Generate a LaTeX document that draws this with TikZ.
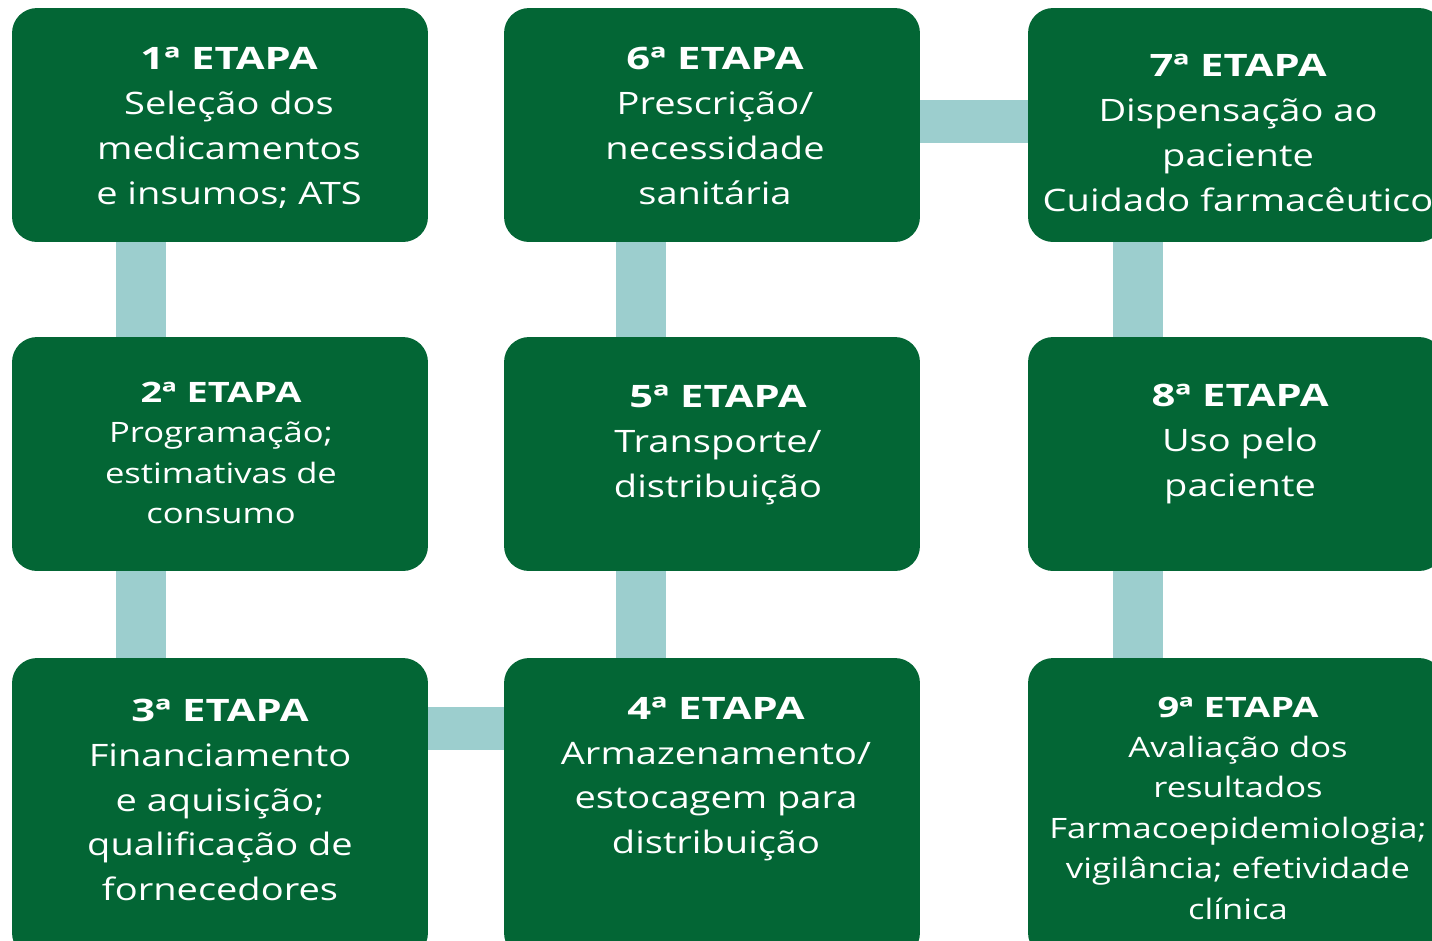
\documentclass[tikz,border=0pt]{standalone}
\usepackage{fontspec}
\setmainfont{Open Sans}[FakeStretch=1.23, BoldFeatures={FakeStretch=1.35}]
\definecolor{verde}{HTML}{036635}
\definecolor{agua}{HTML}{9CCECE}
\newcommand*{\etapa}[1]{\textbf{#1ª ETAPA}\\}
\tikzset{
  caixa/.style={fill=verde, rounded corners=0.5cm, minimum width=8.32cm,
                minimum height=4.68cm, inner sep=0pt},
  alta/.style={minimum height=6cm},
  rotulo/.style={text=white, align=center, inner sep=0pt,
                 font=\fontsize{17.6}{25.5}\selectfont},
  menor/.style={font=\fontsize{16}{23}\selectfont},
  elo/.style={draw=agua, line width=1cm},
  eloh/.style={draw=agua, line width=0.86cm},
}

\begin{document}
\begin{tikzpicture}[x=0.02cm,y=-0.02cm]
  \useasboundingbox (0,0) rectangle (1432,940);
  \clip (0,0) rectangle (1432,940);
  \fill[white] (0,0) rectangle (1432,940);
  % caixas
  \node[caixa] (e1) at (220,125) {};
  \node[caixa] (e2) at (220,454) {};
  \node[caixa,alta] (e3) at (220,808) {};
  \node[caixa,alta] (e4) at (712,808) {};
  \node[caixa] (e5) at (712,454) {};
  \node[caixa] (e6) at (712,125) {};
  \node[caixa] (e7) at (1236,125) {};
  \node[caixa] (e8) at (1236,454) {};
  \node[caixa,alta] (e9) at (1236,808) {};
  % ligacoes
  \draw[elo] ([xshift=-1.58cm]e1.south) -- ([xshift=-1.58cm]e2.north);
  \draw[elo] ([xshift=-1.58cm]e2.south) -- ([xshift=-1.58cm]e3.north);
  \draw[eloh] ([yshift=1.6cm]e3.east) -- ([yshift=1.6cm]e4.west);
  \draw[elo] ([xshift=-1.43cm]e4.north) -- ([xshift=-1.43cm]e5.south);
  \draw[elo] ([xshift=-1.43cm]e5.north) -- ([xshift=-1.43cm]e6.south);
  \draw[eloh] ([yshift=0.08cm]e6.east) -- ([yshift=0.08cm]e7.west);
  \draw[elo] ([xshift=-1.96cm]e7.south) -- ([xshift=-1.96cm]e8.north);
  \draw[elo] ([xshift=-1.96cm]e8.south) -- ([xshift=-1.96cm]e9.north);
  % textos
  \node[rotulo] (t1) at (229,128) {\etapa{1}Seleção dos\\medicamentos\\e insumos; ATS};
  \node[rotulo,menor] (t2) at (221,453) {\etapa{2}Programação;\\estimativas de\\consumo};
  \node[rotulo] (t3) at (220,800) {\etapa{3}Financiamento\\e aquisição;\\qualificação de\\fornecedores};
  \node[rotulo] (t4) at (716,779) {\etapa{4}Armazenamento/\\estocagem para\\distribuição};
  \node[rotulo] (t5) at (718,445) {\etapa{5}Transporte/\\distribuição};
  \node[rotulo] (t6) at (715,126) {\etapa{6}Prescrição/\\necessidade\\sanitária};
  \node[rotulo] (t7) at (1238,133) {\etapa{7}Dispensação ao\\paciente\\Cuidado farmacêutico};
  \node[rotulo] (t8) at (1240,444) {\etapa{8}Uso pelo\\paciente};
  \node[rotulo,menor] (t9) at (1238,808) {\etapa{9}Avaliação dos\\resultados\\Farmacoepidemiologia;\\vigilância; efetividade\\clínica};
\end{tikzpicture}
\end{document}
